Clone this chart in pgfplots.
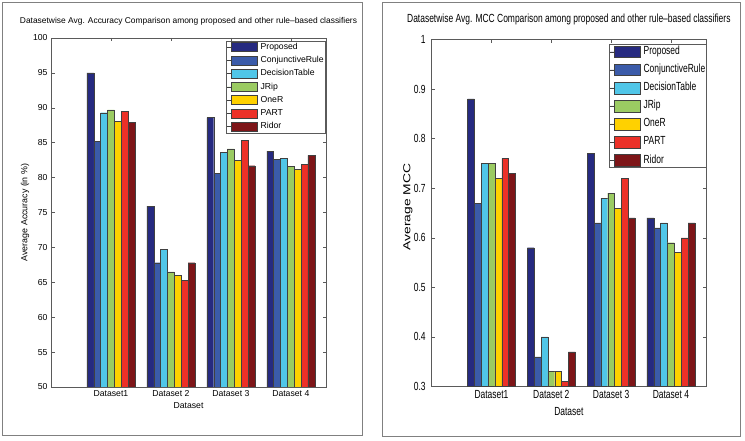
\documentclass[border=0pt]{standalone}
\usepackage{pgfplots}
\pgfplotsset{compat=1.18}
\usepackage{fontspec}
\setmainfont{Liberation Sans}
\newfontfamily\rfont[FakeStretch=0.72]{Liberation Sans}

\definecolor{cProp}{RGB}{38,42,128}
\definecolor{cConj}{RGB}{59,91,169}
\definecolor{cDT}{RGB}{80,198,232}
\definecolor{cJRip}{RGB}{155,203,98}
\definecolor{cOneR}{RGB}{255,209,0}
\definecolor{cPART}{RGB}{236,49,40}
\definecolor{cRidor}{RGB}{125,21,24}
\definecolor{axgray}{RGB}{90,90,90}
\definecolor{framegray}{RGB}{128,128,128}

\pgfplotsset{
  mybars/.style={
    ybar=0pt,
    scale only axis,
    xmin=0, xmax=4.587,
    xtick={1,2,3,4},
    xticklabels={Dataset1,Dataset 2,Dataset 3,Dataset 4},
    tick align=inside,
    major tick length=3.5bp,
    axis line style={axgray, line width=0.5bp},
    tick style={axgray, line width=0.5bp},
    /pgf/number format/assume math mode=true,
    legend cell align=left,
    every axis plot/.append style={draw=black!75, line width=0.35bp},
  },
  plProp/.style={fill=cProp},
  plConj/.style={fill=cConj},
  plDT/.style={fill=cDT},
  plJRip/.style={fill=cJRip},
  plOneR/.style={fill=cOneR},
  plPART/.style={fill=cPART},
  plRidor/.style={fill=cRidor},
}

\begin{document}
\begin{tikzpicture}[x=1bp,y=1bp]
\fill[white] (0,0) rectangle (745,441);
\path[use as bounding box] (0,0) rectangle (745,441);
\draw[framegray, line width=1bp] (2.5,5) rectangle (362.3,438);
\draw[framegray, line width=1bp] (382.3,4.5) rectangle (740.7,438);

% ---------- left: accuracy ----------
\begin{axis}[
  mybars,
  at={(51bp,54bp)}, anchor=south west,
  width=275bp, height=349bp,
  bar width=6.86bp,
  ymin=50, ymax=100,
  ytick={50,55,60,65,70,75,80,85,90,95,100},
  font=\fontsize{8.7}{10}\selectfont,
  title={Datasetwise Avg. Accuracy Comparison among proposed and other rule–based classifiers},
  title style={at={(axis description cs:0.5,1)}, anchor=center, yshift=11bp,
    font=\fontsize{8.45}{10}\selectfont},
  xlabel={Dataset},
  xlabel style={at={(axis description cs:0.5,0)}, anchor=center, yshift=-19bp},
  ylabel={Average Accuracy (in \%)},
  ylabel style={at={(axis description cs:-0.0945,0.5)}, anchor=center, font=\fontsize{8.9}{10}\selectfont},
  legend style={at={(1,1)}, anchor=north east, xshift=-1bp, yshift=-2.7bp,
    draw=axgray, line width=0.5bp, inner xsep=1bp, inner ysep=1.5bp,
    row sep=3.9bp, column sep=3.4bp,
    nodes={inner sep=0pt, text height=6.3bp, text depth=2bp}},
  legend image code/.code={\path (0bp,0bp) -- (3.6bp,0bp);
    \draw[#1] (3.6bp,-4.5bp) rectangle (29.6bp,4.5bp);},
]
\addplot[plProp]  coordinates {(1,95.0) (2,75.9) (3,88.6) (4,83.8)};
\addplot[plConj]  coordinates {(1,85.2) (2,67.8) (3,80.6) (4,82.6)};
\addplot[plDT]    coordinates {(1,89.3) (2,69.7) (3,83.6) (4,82.8)};
\addplot[plJRip]  coordinates {(1,89.7) (2,66.5) (3,84.1) (4,81.6)};
\addplot[plOneR]  coordinates {(1,88.1) (2,66.0) (3,82.5) (4,81.2)};
\addplot[plPART]  coordinates {(1,89.5) (2,65.3) (3,85.3) (4,81.9)};
\addplot[plRidor] coordinates {(1,87.9) (2,67.8) (3,81.7) (4,83.2)};
\legend{Proposed,ConjunctiveRule,DecisionTable,JRip,OneR,PART,Ridor}
\end{axis}

% ---------- right: MCC ----------
\begin{axis}[
  mybars,
  at={(431.7bp,54.5bp)}, anchor=south west,
  width=274.3bp, height=347bp,
  bar width=6.84bp,
  ymin=0.3, ymax=1,
  ytick={0.3,0.4,0.5,0.6,0.7,0.8,0.9,1},
  font=\rfont\fontsize{11.8}{13}\selectfont,
  yticklabel style={xshift=-2.5bp},
  title={Datasetwise Avg. MCC Comparison among proposed and other rule–based classifiers},
  title style={at={(axis description cs:0.5,1)}, anchor=center, yshift=14.5bp},
  xlabel={Dataset},
  xlabel style={at={(axis description cs:0.5,0)}, anchor=center, yshift=-25.5bp},
  legend style={at={(1,1)}, anchor=north east, xshift=0.5bp, yshift=-4.5bp,
    draw=axgray, line width=0.5bp, inner xsep=1bp, inner ysep=1.5bp,
    row sep=6bp, column sep=3bp,
    nodes={inner sep=0pt, text height=8.6bp, text depth=2.7bp}},
  legend image code/.code={\path (0bp,0bp) -- (4bp,0bp);
    \draw[#1] (4bp,-5.85bp) rectangle (30bp,5.85bp);},
]
\addplot[plProp]  coordinates {(1,0.88) (2,0.58) (3,0.77) (4,0.64)};
\addplot[plConj]  coordinates {(1,0.67) (2,0.36) (3,0.63) (4,0.62)};
\addplot[plDT]    coordinates {(1,0.75) (2,0.40) (3,0.68) (4,0.63)};
\addplot[plJRip]  coordinates {(1,0.75) (2,0.33) (3,0.69) (4,0.59)};
\addplot[plOneR]  coordinates {(1,0.72) (2,0.33) (3,0.66) (4,0.57)};
\addplot[plPART]  coordinates {(1,0.76) (2,0.31) (3,0.72) (4,0.60)};
\addplot[plRidor] coordinates {(1,0.73) (2,0.37) (3,0.64) (4,0.63)};
\legend{Proposed,ConjunctiveRule,DecisionTable,JRip,OneR,PART,Ridor}
\end{axis}

\node[rotate=90, xscale=1.36, font=\fontsize{10.2}{12}\selectfont] at (408,234) {Average MCC};
\end{tikzpicture}
\end{document}
